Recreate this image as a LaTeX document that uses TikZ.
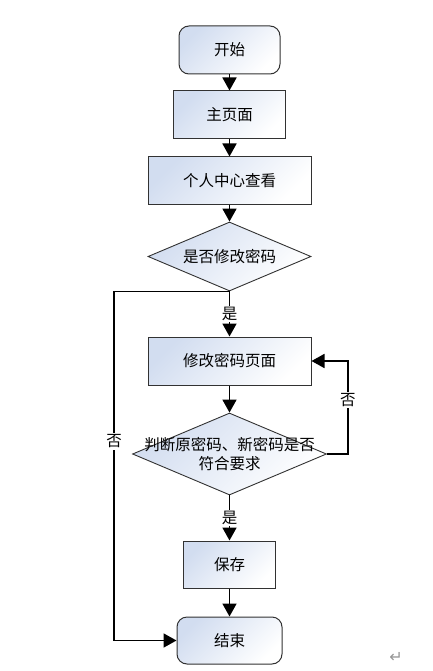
\documentclass[tikz,border=0pt]{standalone}
\usepackage{fontspec}
\setmainfont{Noto Sans CJK SC}
\newfontfamily\symfont{DejaVu Sans}
\usepackage{tikz}
\usetikzlibrary{arrows.meta,shapes.geometric}
\definecolor{flowEdge}{RGB}{50,50,50}
\definecolor{flowFill}{RGB}{210,221,240}
\definecolor{markGray}{RGB}{150,150,150}
\tikzset{
  boxShade/.style={left color=flowFill, right color=white, shading angle=45},
  process/.style={rectangle, draw=flowEdge, line width=1pt, boxShade, inner sep=0pt},
  terminal/.style={process, rounded corners=10pt},
  decision/.style={diamond, draw=flowEdge, line width=0.9pt, boxShade, inner sep=0pt},
  flowArrow/.style={line width=1.8pt, -{Triangle[length=13pt,width=14pt]}},
  yesNo/.style={fill=white, inner sep=1.5pt}
}

\begin{document}
\begin{tikzpicture}[x=1pt, y=-1pt, font=\fontsize{15.5}{19}\selectfont]
\useasboundingbox (0,0) rectangle (432,671);
% boxes
\node[terminal, minimum width=101pt, minimum height=48pt] (start) at (229.5,50) {开始};
\node[process, minimum width=112pt, minimum height=48pt] (home) at (229.5,115) {主页面};
\node[process, minimum width=163pt, minimum height=47pt] (profile) at (229.5,180.5) {个人中心查看};
\node[decision, minimum width=163pt, minimum height=69pt] (ask) at (229.5,256.5) {};
\node (askText) at (ask) {是否修改密码};
\node[process, minimum width=163pt, minimum height=48pt] (editPage) at (229.5,361) {修改密码页面};
\node[decision, minimum width=194pt, minimum height=82pt] (check) at (229.5,454) {};
\node[align=center] (checkText) at (check) {判断原密码、新密码是否\\符合要求};
\node[process, minimum width=92pt, minimum height=47pt] (save) at (229.5,564.5) {保存};
\node[terminal, minimum width=105pt, minimum height=47pt] (finish) at (229.5,640.5) {结束};
\node[text=markGray, font=\symfont\fontsize{16}{16}\selectfont] (returnMark) at (396,657) {↵};
% arrows
\draw[flowArrow] (start) -- (home);
\draw[flowArrow] (home) -- (profile);
\draw[flowArrow] (profile) -- (ask);
\draw[flowArrow] (ask.south) -- (editPage.north) node[yesNo, midway] {是};
\draw[flowArrow] (editPage) -- (check);
\draw[flowArrow] (check.south) -- (save.north) node[yesNo, midway] {是};
\draw[flowArrow] (save) -- (finish);
\draw[flowArrow] (check.east) -- ++(21,0) |- (editPage.east) node[yesNo, pos=0.29] {否};
\draw[flowArrow] (ask.south) -- ++(-115.5,0) |- (finish.west) node[yesNo, pos=0.215] {否};
\end{tikzpicture}
\end{document}
